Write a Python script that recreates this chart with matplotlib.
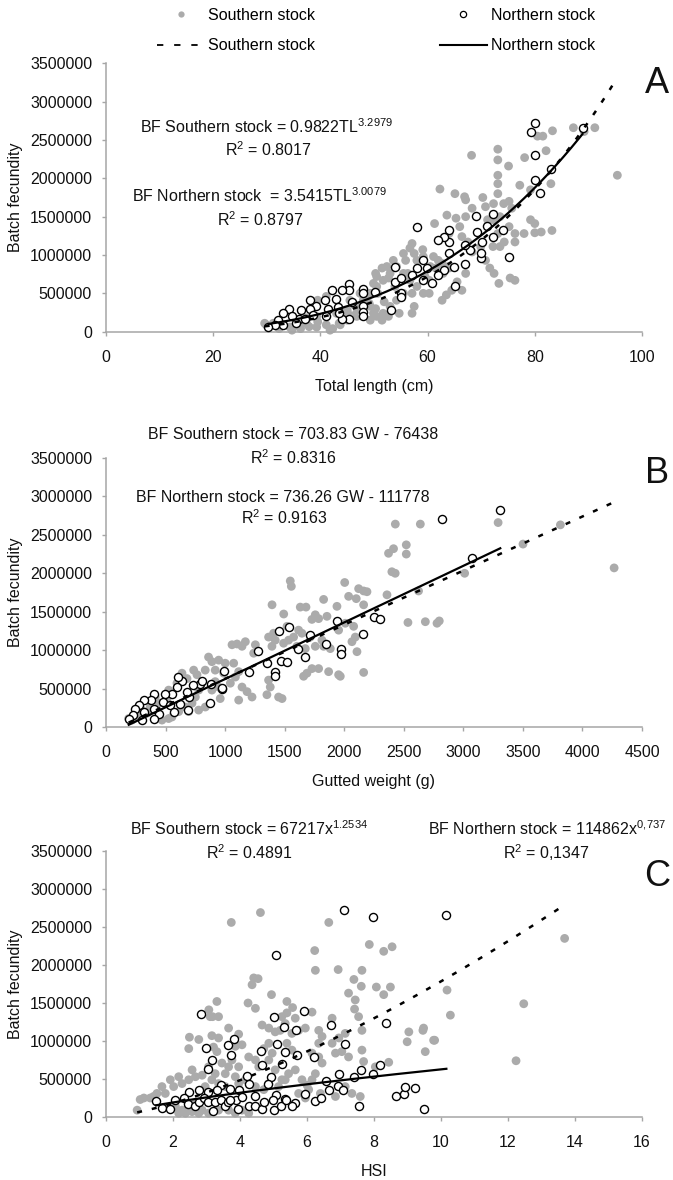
import numpy as np
import matplotlib
matplotlib.use("Agg")
import matplotlib.pyplot as plt
from matplotlib.lines import Line2D
from matplotlib.ticker import FuncFormatter

plt.rcParams['font.family'] = ['Liberation Sans', 'DejaVu Sans']
plt.rcParams['mathtext.fontset'] = 'custom'
plt.rcParams['mathtext.rm'] = 'Liberation Sans'
plt.rcParams['mathtext.default'] = 'regular'

# ---- data (batch fecundity in thousands of eggs) ----
# A: total length (cm)
a_south_tl = [80.5, 81.5, 83.3, 87.2, 91.2, 89.2, 95.4, 68.2, 73.1, 73.1, 73.1, 73.1, 73.1, 75.1, 78.1,
              82.1, 83.0, 77.2, 79.2, 62.3, 65.1, 67.1, 68.3, 70.3, 70.8, 72.3, 74.2, 75.7, 75.2, 79.2,
              80.0, 78.0, 81.2, 83.2, 80.0, 61.3, 63.6, 65.3, 67.1, 66.0, 64.0, 66.4, 67.5, 68.3, 69.9,
              71.2, 72.3, 73.5, 72.2, 73.5, 74.3, 76.3, 76.3, 75.2, 73.1, 70.8, 71.6, 72.4, 73.3, 75.4,
              76.3, 67.1, 65.5, 64.5, 63.5, 62.7, 66.4, 60.3, 60.3, 59.5, 61.5, 62.7, 64.0, 61.1, 59.1,
              57.1, 57.5, 55.9, 56.3, 57.1, 57.5, 57.1, 53.9, 52.7, 51.5, 50.3, 49.9, 50.7, 51.9, 50.3,
              52.7, 54.7, 51.5, 49.9, 49.1, 48.3, 46.3, 45.1, 43.5, 42.3, 41.1, 39.5, 37.9, 36.3, 34.7,
              32.3, 29.9, 41.1, 39.5, 46.7, 55.5, 56.7, 58.0, 59.2, 54.2, 53.0, 51.7, 50.5, 49.3, 48.0,
              50.5, 52.4, 53.6, 55.5, 56.7, 58.0, 59.2, 55.5, 54.2, 53.0, 51.7, 50.5, 49.3, 46.8, 45.0,
              43.7, 41.8, 39.3, 37.4, 36.2, 34.3, 33.1, 31.2, 29.6, 46.8, 45.0, 43.0, 41.2, 39.3, 37.4,
              35.6, 49.3, 45.5, 47.4, 62.0, 63.9, 60.5, 62.9, 66.9]
a_south_bf = [2550, 2550, 2620, 2660, 2660, 2610, 2040, 2300, 2380, 2240, 2040, 1930, 1800, 2160, 2270,
              2360, 1930, 1910, 1850, 1860, 1800, 1720, 1610, 1750, 1630, 1670, 1670, 1610, 1700, 1460,
              1410, 1280, 1300, 1320, 1290, 1410, 1520, 1480, 1500, 1370, 1280, 1240, 1170, 1040, 1110,
              1460, 1460, 1500, 1110, 1110, 1170, 1170, 1280, 1370, 1280, 930, 830, 760, 630, 700,
              670, 760, 650, 540, 480, 410, 540, 500, 670, 720, 830, 890, 830, 980, 1070,
              1150, 1020, 930, 760, 500, 330, 240, 590, 700, 830, 760, 630, 500, 390, 300,
              200, 240, 150, 240, 370, 460, 350, 240, 110, 40, 90, 130, 65, 40, 20,
              40, 90, 460, 410, 240, 1020, 1090, 930, 980, 850, 760, 670, 590, 500, 410,
              720, 850, 930, 760, 670, 590, 500, 500, 410, 330, 240, 200, 150, 200, 150,
              90, 20, 60, 110, 60, 60, 90, 110, 110, 330, 280, 240, 200, 200, 180,
              150, 330, 410, 500, 930, 850, 850, 760, 1760]
a_north_tl = [80.0, 79.2, 88.9, 80.0, 80.0, 81.0, 83.0, 72.2, 69.0, 74.1, 75.2, 72.2, 71.0, 69.2, 70.2,
              70.0, 70.0, 68.0, 67.0, 67.0, 65.1, 65.0, 64.0, 64.0, 64.0, 63.1, 61.9, 63.0, 62.0, 58.0,
              59.1, 59.9, 58.0, 57.1, 59.1, 60.9, 53.9, 53.9, 55.0, 55.0, 55.0, 53.1, 50.2, 48.0, 48.0,
              48.0, 48.0, 48.0, 45.3, 45.3, 44.0, 42.1, 42.9, 43.3, 45.3, 44.0, 41.5, 40.9, 39.1, 38.1,
              38.1, 38.7, 36.3, 36.1, 34.1, 34.7, 33.1, 32.1, 35.5, 33.1, 31.5, 30.3, 37.1, 41.1, 43.5,
              45.9]
a_north_bf = [2720, 2610, 2650, 2300, 1980, 1810, 2120, 1530, 1510, 1320, 970, 1230, 1380, 1300, 1170,
              960, 1020, 1070, 1130, 880, 590, 840, 1020, 1170, 1330, 1240, 1200, 800, 740, 1370,
              930, 830, 830, 740, 670, 630, 850, 650, 700, 500, 450, 280, 520, 560, 500,
              330, 260, 200, 620, 540, 540, 540, 420, 320, 170, 160, 300, 410, 330, 410,
              290, 220, 280, 160, 300, 200, 240, 150, 110, 90, 90, 65, 170, 200, 240,
              390]

# B: gutted weight (g)
b_south_gw = [4266, 3815, 3501, 3292, 3011, 2429, 2639, 2521, 2521, 2372, 2414, 2400, 2428, 2004, 1547,
              1556, 2037, 2101, 2121, 2163, 2191, 2624, 2359, 1827, 1394, 1631, 1679, 1939, 2163, 1492,
              1757, 1785, 1729, 1855, 1520, 1617, 1645, 1715, 1813, 1953, 2009, 2079, 2093, 2535, 2681,
              2779, 2798, 2163, 1953, 1967, 1869, 1785, 1729, 1659, 1687, 2107, 2065, 1449, 1478, 1351,
              1379, 1365, 1114, 1058, 1100, 1170, 1142, 1254, 1240, 1365, 1407, 1421, 1393, 1491, 1533,
              1575, 1603, 1673, 1757, 1827, 1883, 861, 889, 946, 1001, 1072, 833, 917, 988, 736,
              764, 638, 680, 596, 1044, 1142, 1184, 1226, 1086, 1114, 959, 917, 946, 889, 778,
              750, 722, 526, 554, 512, 484, 414, 442, 372, 302, 344, 274, 190, 218, 246,
              554, 610, 666, 694, 778, 834, 470, 526]
b_south_bf = [2070, 2630, 2380, 2660, 2000, 2640, 2640, 2370, 2250, 2260, 2320, 2020, 2000, 1880, 1900,
              1830, 1700, 1670, 1800, 1770, 1760, 1770, 1720, 1660, 1590, 1560, 1560, 1570, 1590, 1470,
              1460, 1410, 1400, 1440, 1310, 1260, 1220, 1170, 1130, 1260, 1350, 1310, 1170, 1360, 1370,
              1350, 1380, 710, 680, 660, 720, 760, 760, 660, 700, 980, 1110, 390, 370, 420,
              520, 610, 350, 1070, 1080, 1110, 1050, 1070, 960, 1170, 1220, 1130, 1050, 1090, 1130,
              1170, 1050, 1020, 1050, 1050, 1020, 910, 850, 870, 830, 830, 740, 740, 700, 740,
              680, 700, 630, 570, 570, 520, 460, 390, 650, 720, 370, 590, 520, 480, 480,
              390, 310, 480, 440, 370, 310, 390, 310, 260, 220, 180, 130, 110, 90, 130,
              130, 200, 260, 200, 220, 260, 90, 110]
b_north_gw = [3310, 2823, 3076, 2247, 2301, 1940, 2160, 1843, 1969, 1969, 1713, 1670, 1608, 1534, 1450,
              1471, 1421, 1421, 1520, 1273, 1352, 1198, 993, 977, 883, 873, 786, 732, 696, 689,
              642, 606, 595, 552, 498, 480, 407, 379, 317, 281, 245, 227, 317, 400, 444,
              534, 624, 570, 191, 299, 407, 678, 806, 974]
b_north_bf = [2820, 2710, 2200, 1430, 1400, 1380, 1210, 1080, 1010, 950, 1200, 910, 1010, 1300, 1250,
              860, 720, 660, 840, 990, 830, 720, 730, 500, 560, 310, 560, 540, 390, 220,
              600, 650, 520, 430, 430, 330, 430, 350, 350, 280, 240, 150, 200, 240, 170,
              280, 300, 200, 110, 90, 110, 460, 600, 510]

# C: hepatosomatic index
c_south_hsi = [4.61, 3.74, 6.65, 7.86, 8.54, 8.29, 6.23, 6.25, 6.93, 7.64, 4.41, 4.54, 4.36, 7.40, 7.62,
               8.07, 8.49, 8.29, 7.24, 7.44, 4.94, 4.24, 4.46, 5.40, 3.31, 5.25, 5.40, 5.57, 5.65, 6.15,
               3.11, 3.36, 7.42, 7.54, 7.64, 6.75, 10.18, 10.28, 9.04, 8.99, 9.48, 9.53, 9.81, 2.49, 2.47,
               2.77, 3.16, 3.36, 3.07, 3.18, 3.66, 3.96, 4.06, 3.86, 3.21, 3.31, 4.66, 4.86, 5.05, 5.20,
               5.35, 5.55, 5.75, 5.95, 6.35, 6.45, 6.35, 6.75, 6.95, 7.14, 6.15, 6.35, 6.45, 6.85, 7.04,
               7.24, 7.64, 7.69, 8.04, 7.59, 6.40, 5.85, 6.00, 6.15, 6.25, 5.45, 5.65, 5.25, 5.05, 4.86,
               4.56, 4.46, 4.26, 3.96, 3.76, 3.66, 3.46, 3.56, 3.26, 3.06, 2.87, 2.67, 2.57, 2.47, 2.27,
               2.17, 2.02, 1.92, 1.77, 1.67, 1.52, 1.42, 1.32, 1.13, 1.02, 0.93, 2.07, 2.27, 2.37, 2.17,
               2.57, 2.77, 2.47, 2.67, 2.87, 3.06, 3.36, 3.66, 3.86, 4.06, 4.26, 4.46, 4.71, 4.86, 5.15,
               5.35, 3.96, 4.16, 3.86, 3.16, 3.36, 3.56, 2.96, 5.75, 5.95, 6.05, 6.85, 7.14, 7.34, 4.71,
               4.86, 4.96, 5.40, 5.55, 12.47, 12.24, 13.69, 8.44, 9.46, 9.78]
c_south_bf = [2690, 2560, 2560, 2270, 2240, 2180, 2190, 1930, 1940, 1930, 1830, 1820, 1740, 1810, 1720,
              1710, 1710, 1610, 1630, 1540, 1610, 1500, 1430, 1520, 1520, 1320, 1370, 1440, 1300, 1380,
              1320, 1320, 1420, 1320, 1140, 1300, 1670, 1340, 1120, 990, 1170, 860, 1010, 1050, 900,
              1020, 1070, 1040, 1410, 1320, 1170, 1090, 950, 930, 920, 860, 1210, 1170, 1120, 1140,
              1230, 1100, 1140, 1170, 1140, 1060, 970, 970, 1040, 1100, 840, 790, 710, 840, 860,
              790, 880, 730, 660, 270, 310, 490, 420, 490, 570, 570, 620, 490, 620, 750,
              660, 750, 790, 660, 750, 660, 710, 570, 570, 660, 550, 530, 620, 490, 440,
              530, 400, 490, 310, 400, 310, 270, 250, 250, 230, 90, 140, 90, 50, 50,
              70, 50, 140, 180, 90, 50, 90, 90, 50, 90, 50, 400, 360, 440, 400,
              490, 440, 490, 530, 490, 440, 400, 400, 310, 250, 360, 270, 400, 310, 900,
              970, 840, 970, 880, 1490, 740, 2350, 720, 1140, 1010]
c_north_hsi = [7.09, 7.96, 10.16, 5.07, 2.84, 5.90, 5.00, 5.30, 5.67, 6.73, 8.36, 3.81, 3.64, 2.99, 5.10,
               7.14, 3.73, 4.64, 5.33, 5.70, 6.20, 3.16, 4.66, 3.04, 5.26, 4.21, 4.94, 7.62, 8.17, 6.95,
               7.96, 3.44, 4.28, 4.84, 6.58, 7.39, 2.49, 2.77, 3.04, 3.31, 3.71, 3.96, 4.46, 5.06, 5.33,
               5.63, 5.93, 6.25, 6.43, 6.65, 6.93, 7.08, 8.66, 8.90, 8.94, 9.21, 9.48, 7.54, 1.49, 1.67,
               1.92, 2.05, 2.32, 2.45, 2.67, 2.79, 2.92, 3.04, 3.18, 3.26, 3.44, 3.56, 3.64, 3.88, 3.94,
               4.06, 4.26, 4.44, 4.66, 4.98, 5.00, 5.23, 5.37, 5.55, 4.71, 3.71]
c_north_bf = [2720, 2630, 2660, 2130, 1360, 1390, 1310, 1180, 1140, 1210, 1240, 1030, 950, 910, 960,
              960, 820, 870, 850, 820, 790, 750, 680, 630, 700, 540, 530, 620, 680, 570,
              570, 420, 430, 430, 470, 520, 330, 350, 330, 360, 370, 350, 270, 290, 240,
              180, 300, 210, 250, 350, 410, 350, 270, 300, 400, 380, 100, 140, 210, 120,
              100, 220, 250, 170, 140, 200, 250, 200, 80, 200, 220, 140, 200, 220, 100,
              260, 140, 140, 100, 220, 90, 140, 230, 150, 200, 220]

# trend lines: (a, b) for power y = a*x^b, (slope, intercept) for linear
a_south_fit = (0.9822, 3.2979)
a_north_fit = (3.5415, 3.0079)
b_south_fit = (703.83, -76438)
b_north_fit = (736.26, -111778)
c_south_fit = (67217, 1.424)
c_north_fit = (114862, 0.737)

W, H = 673, 1180
GRAY = '#ababab'
INK = '#111111'

fig = plt.figure(figsize=(W / 100, H / 100), dpi=100)


def ftext(x, y, s, size=11.5, **kw):
    # place text using pixel coordinates measured from the top-left corner
    fig.text(x / W, 1 - y / H, s, fontsize=size, color=INK, ha='center', va='baseline', **kw)


def make_axes(top, bottom):
    ax = fig.add_axes([106 / W, 1 - bottom / H, 536 / W, (bottom - top) / H])
    for side in ('top', 'right'):
        ax.spines[side].set_visible(False)
    for side in ('left', 'bottom'):
        ax.spines[side].set_color('#a6a6a6')
        ax.spines[side].set_linewidth(1.1)
    ax.tick_params(colors='#a6a6a6', labelcolor=INK, labelsize=11.5, length=3, width=1)
    ax.tick_params(axis='x', pad=10)
    ax.tick_params(axis='y', pad=7)
    ax.set_ylim(0, 3500000)
    ax.set_yticks(np.arange(0, 3500001, 500000))
    ax.yaxis.set_major_formatter(FuncFormatter(lambda v, p: f'{v:.0f}'))
    ax.set_ylabel('Batch fecundity', fontsize=11.5, color=INK, labelpad=5)
    return ax


def scatter_pair(ax, sx, sy, nx, ny):
    ax.scatter(sx, np.array(sy) * 1000, s=40, color=GRAY, edgecolors='none', zorder=2, clip_on=False)
    ax.scatter(nx, np.array(ny) * 1000, s=34, facecolors='white', edgecolors='black',
               linewidths=1.0, zorder=3, clip_on=False)


def power(fit, x):
    return fit[0] * np.power(x, fit[1])


def linear(fit, x):
    return fit[0] * x + fit[1]


def trend(ax, xs, fit, func, dashed):
    x = np.linspace(min(xs), max(xs), 200)
    if dashed:
        ax.plot(x, func(fit, x), color='black', lw=1.8, dashes=(2, 4), zorder=4)
    else:
        ax.plot(x, func(fit, x), color='black', lw=1.6, zorder=5)


# ---- panel A ----
ax = make_axes(63.3, 331.7)
scatter_pair(ax, a_south_tl, a_south_bf, a_north_tl, a_north_bf)
trend(ax, a_south_tl, a_south_fit, power, True)
trend(ax, a_north_tl, a_north_fit, power, False)
ax.set_xlim(0, 100)
ax.set_xticks(np.arange(0, 101, 20))
ax.set_xlabel('Total length (cm)', fontsize=11.5, color=INK, labelpad=10)
ftext(267, 133, r'BF Southern stock = 0.9822TL$^{3.2979}$')
ftext(268, 156, r'R$^2$ = 0.8017')
ftext(260, 202, r'BF Northern stock  = 3.5415TL$^{3.0079}$')
ftext(260, 226, r'R$^2$ = 0.8797')
ftext(657, 93, 'A', size=26)

# ---- panel B ----
ax = make_axes(458, 727)
scatter_pair(ax, b_south_gw, b_south_bf, b_north_gw, b_north_bf)
trend(ax, b_south_gw, b_south_fit, linear, True)
trend(ax, b_north_gw, b_north_fit, linear, False)
ax.set_xlim(0, 4500)
ax.set_xticks(np.arange(0, 4501, 500))
ax.set_xlabel('Gutted weight (g)', fontsize=11.5, color=INK, labelpad=10)
ftext(293, 439, 'BF Southern stock = 703.83 GW - 76438')
ftext(293, 464, r'R$^2$ = 0.8316')
ftext(283, 502, 'BF Northern stock = 736.26 GW - 111778')
ftext(284, 524, r'R$^2$ = 0.9163')
ftext(657, 483, 'B', size=26)

# ---- panel C ----
ax = make_axes(851, 1117)
scatter_pair(ax, c_south_hsi, c_south_bf, c_north_hsi, c_north_bf)
trend(ax, c_south_hsi, c_south_fit, power, True)
trend(ax, c_north_hsi, c_north_fit, power, False)
ax.set_xlim(0, 16)
ax.set_xticks(np.arange(0, 17, 2))
ax.set_xlabel('HSI', fontsize=11.5, color=INK, labelpad=10)
ftext(249, 835, r'BF Southern stock = 67217x$^{1.2534}$')
ftext(249, 859, r'R$^2$ = 0.4891')
ftext(547, 835, r'BF Northern stock = 114862x$^{0{,}737}$')
ftext(546, 859, r'R$^2$ = 0,1347')
ftext(657, 886, 'C', size=26)

# ---- shared legend ----
handles = [
    Line2D([], [], ls='', marker='o', ms=4.5, color=GRAY, mec='none'),
    Line2D([], [], color='black', lw=1.3, dashes=(3.5, 6)),
    Line2D([], [], ls='', marker='o', ms=4.5, mfc='white', mec='black', mew=0.9),
    Line2D([], [], color='black', lw=1.5),
]
labels = ['Southern stock', 'Southern stock', 'Northern stock', 'Northern stock']
fig.legend(handles, labels, ncol=2, loc='upper left', bbox_to_anchor=(157 / W, 1 - 8 / H),
           frameon=False, fontsize=11.5, handlelength=2.95, handletextpad=0.25,
           columnspacing=7.8, labelspacing=0.95, borderpad=0, borderaxespad=0)

fig.savefig('out.png', dpi=100)
